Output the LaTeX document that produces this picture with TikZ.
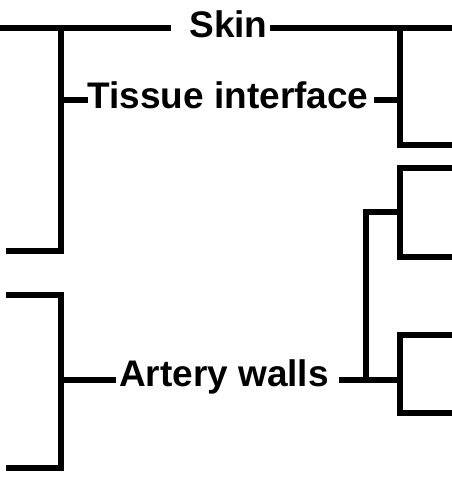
\documentclass[tikz,border=0pt]{standalone}
\usepackage{fontspec}
\setmainfont{Liberation Sans}
\begin{document}
\begin{tikzpicture}[x=1pt,y=-1pt,
  wire/.style={line width=6pt, line join=miter, line cap=rect},
  lbl/.style={inner sep=0pt, anchor=base, font=\fontsize{37}{42}\selectfont\bfseries}]
\useasboundingbox (0,0) rectangle (452,477);
% labels
\node[lbl] (skin) at (228.5,37) {Skin};
\node[lbl] (tissue) at (228,108) {Tissue interface};
\node[lbl] (artery) at (224,386) {Artery walls};
% coordinates
\coordinate (skinL) at (168,28);
\coordinate (skinR) at (273,28);
\coordinate (tisL) at (85,100);
\coordinate (tisR) at (377,100);
\coordinate (artL) at (113,380);
\coordinate (artR) at (342,380);
\coordinate (topL) at (2,28);
\coordinate (topR) at (452,28);
\coordinate (lj) at (61,28);
\coordinate (rj) at (400,28);
\coordinate (midR) at (366,212);
% top-left bracket
\draw[wire] (topL) -- (skinL);
\draw[wire] (lj) -- (61,251) -- (9,251);
\draw[wire] (61,100) -- (tisL);
% top-right bracket
\draw[wire] (skinR) -- (topR);
\draw[wire] (rj) -- (400,145) -- (452,145);
\draw[wire] (tisR) -- (400,100);
% second right bracket
\draw[wire] (452,168) -- (400,168) -- (400,257) -- (452,257);
\draw[wire] (400,212) -- (midR) -- (366,380);
% lower-left bracket
\draw[wire] (9,295) -- (61,295) -- (61,468) -- (9,468);
\draw[wire] (61,380) -- (artL);
% artery right
\draw[wire] (artR) -- (400,380);
\draw[wire] (452,335) -- (400,335) -- (400,413) -- (452,413);
\end{tikzpicture}
\end{document}
